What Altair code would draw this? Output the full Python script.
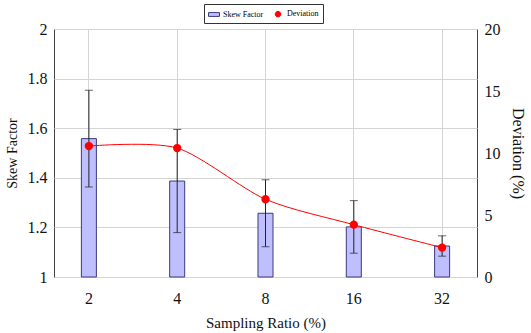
import altair as alt
import pandas as pd

ratios = ["2", "4", "8", "16", "32"]
skew = [1.558, 1.387, 1.257, 1.202, 1.125]
skew_err = [0.195, 0.208, 0.135, 0.106, 0.041]
deviation = [10.56, 10.40, 6.27, 4.22, 2.37]

df = pd.DataFrame({
    "ratio": ratios,
    "skew": skew,
    "lo": [s - e for s, e in zip(skew, skew_err)],
    "hi": [s + e for s, e in zip(skew, skew_err)],
    "dev": deviation,
})
df["s1"] = "Skew Factor"
df["s2"] = "Deviation"

FONT = "Liberation Serif"
series_dom = ["Skew Factor", "Deviation"]
fill_scale = alt.Scale(domain=series_dom, range=["#bfbfff", "#ff0000"])
stroke_scale = alt.Scale(domain=series_dom, range=["#3a3a7a", "#ff0000"])
circ = "M0.5,0A0.5,0.5,0,1,1,-0.5,0A0.5,0.5,0,1,1,0.5,0Z"
shape_scale = alt.Scale(domain=series_dom, range=["M-1,-0.35H1V0.35H-1Z", circ])

legend = alt.Legend(
    title=None, orient="none", legendX=150, legendY=-25, direction="horizontal",
    strokeColor="#333333", padding=4, labelFont=FONT, labelFontSize=8,
    symbolSize=120, columnPadding=8, labelOffset=3, symbolStrokeWidth=1,
)

common = dict(labelFont=FONT, titleFont=FONT, labelColor="#111111", titleColor="#111111",
              titleFontWeight="normal", tickSize=0, domain=False)

xenc = alt.X("ratio:N", sort=ratios,
             scale=alt.Scale(paddingInner=0.83, paddingOuter=0.31),
             axis=alt.Axis(title="Sampling Ratio (%)", labelAngle=0, bandPosition=0.5,
                           labelPadding=13, titlePadding=9,
                           labelFontSize=16, titleFontSize=15, grid=True, **common))

yscale = alt.Scale(domain=[1, 2], zero=False, nice=False)
yaxis = alt.Axis(title="Skew Factor", values=[1, 1.2, 1.4, 1.6, 1.8, 2], format="~g",
                 labelPadding=7, titlePadding=8, labelFontSize=16,
                 titleFontSize=14, grid=True, **common)

base = alt.Chart(df)

bars = base.mark_bar(strokeWidth=1).encode(
    x=xenc,
    y=alt.Y("skew:Q", scale=yscale, axis=yaxis),
    y2=alt.datum(1),
    fill=alt.Fill("s1:N", scale=fill_scale, legend=legend),
    stroke=alt.Stroke("s1:N", scale=stroke_scale, legend=legend),
)
rules = base.mark_rule(color="#222222", strokeWidth=1).encode(
    x=alt.X("ratio:N", sort=ratios), y=alt.Y("lo:Q", scale=yscale), y2="hi:Q")
tlo = base.mark_tick(color="#222222", thickness=1, size=8).encode(
    x=alt.X("ratio:N", sort=ratios), y=alt.Y("lo:Q", scale=yscale))
thi = base.mark_tick(color="#222222", thickness=1, size=8).encode(
    x=alt.X("ratio:N", sort=ratios), y=alt.Y("hi:Q", scale=yscale))

left = alt.layer(bars, rules, tlo, thi)

dscale = alt.Scale(domain=[0, 20], nice=False)
daxis = alt.Axis(title="Deviation (%)", orient="right", values=[0, 5, 10, 15, 20],
                 labelPadding=7, titlePadding=9, labelFontSize=16,
                 titleFontSize=16, grid=False, **common)
line = base.mark_line(color="#ff0000", strokeWidth=1, interpolate="cardinal", tension=0.2).encode(
    x=alt.X("ratio:N", sort=ratios), y=alt.Y("dev:Q", scale=dscale, axis=daxis))
pts = base.mark_point(filled=True, opacity=1, size=160).encode(
    x=alt.X("ratio:N", sort=ratios), y=alt.Y("dev:Q", scale=dscale, axis=daxis),
    fill=alt.Fill("s2:N", scale=fill_scale, legend=legend),
    stroke=alt.Stroke("s2:N", scale=stroke_scale, legend=legend),
    shape=alt.Shape("s2:N", scale=shape_scale, legend=legend),
)
right = alt.layer(line, pts)

chart = alt.layer(left, right).resolve_scale(y="independent").properties(
    width=423, height=248,
    background="white",
    autosize=alt.AutoSizeParams(type="none"),
    padding={"left": 54, "top": 29, "right": 54, "bottom": 56},
).configure_view(stroke="#444444", strokeWidth=1).configure_axis(
    labelFont=FONT, titleFont=FONT, gridColor="#d4d4d4", gridWidth=1,
)

chart.save("out.html", embed_options={"renderer": "svg", "actions": False})
